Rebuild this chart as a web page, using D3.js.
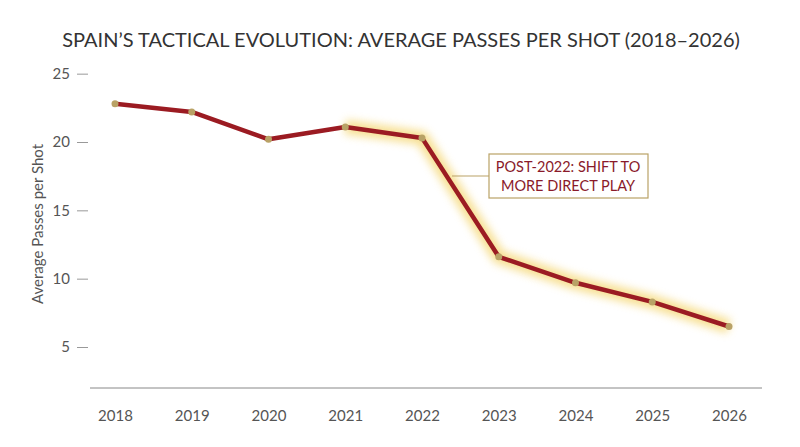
<!DOCTYPE html>
<html><head><meta charset="utf-8">
<script src="https://cdn.jsdelivr.net/npm/d3@7"></script>
<style>body{margin:0;background:#fff;} text{font-family:Lato,"Open Sans",sans-serif;}</style>
</head><body>
<svg id="chart" width="800" height="447"></svg>
<script>
var years = [2018, 2019, 2020, 2021, 2022, 2023, 2024, 2025, 2026];
var passesPerShot = [22.8, 22.2, 20.2, 21.1, 20.3, 11.6, 9.7, 8.3, 6.5];
var yTicks = [5, 10, 15, 20, 25];
var highlightFrom = 2021;
var noteLines = ["POST-2022: SHIFT TO", "MORE DIRECT PLAY"];

var svg = d3.select("#chart");
var red = "#9b1b22", gold = "#b9a266";

var x = d3.scalePoint().domain(years).range([115, 729]);
var y = d3.scaleLinear().domain([2, 26]).range([388, 60]);

svg.append("text").attr("x", 401).attr("y", 47).attr("text-anchor", "middle")
    .attr("font-size", 20).attr("fill", "#333")
    .text("SPAIN\u2019S TACTICAL EVOLUTION: AVERAGE PASSES PER SHOT (2018\u20132026)");

// axes
svg.append("line").attr("x1", 90).attr("x2", 762).attr("y1", 388).attr("y2", 388)
    .attr("stroke", "#888").attr("stroke-width", 1);
var yAxis = svg.append("g").attr("transform", "translate(90,0)")
    .call(d3.axisLeft(y).tickValues(yTicks).tickSize(0));
yAxis.select(".domain").remove();
yAxis.selectAll(".tick line").attr("stroke", "#999").attr("x1", -13).attr("x2", -2);
yAxis.selectAll("text").attr("font-size", 15).attr("fill", "#555").attr("x", -20);
var xAxis = svg.append("g").attr("transform", "translate(0,388)")
    .call(d3.axisBottom(x).tickSize(0).tickPadding(22));
xAxis.select(".domain").remove();
xAxis.selectAll("text").attr("font-size", 15).attr("fill", "#555");

svg.append("text").attr("transform", "translate(43,224) rotate(-90)")
    .attr("text-anchor", "middle").attr("font-size", 15).attr("fill", "#555")
    .text("Average Passes per Shot");

var data = years.map(function (d, i) { return { year: d, v: passesPerShot[i] }; });
var line = d3.line().x(function (d) { return x(d.year); }).y(function (d) { return y(d.v); });

// glow
var defs = svg.append("defs");
var f = defs.append("filter").attr("id", "glow").attr("x", "-20%").attr("y", "-20%").attr("width", "140%").attr("height", "140%");
f.append("feGaussianBlur").attr("stdDeviation", 4);
var hl = data.filter(function (d) { return d.year >= highlightFrom; });
svg.append("path").datum(hl).attr("d", line).attr("fill", "none")
    .attr("stroke", "#f5d878").attr("stroke-width", 14).attr("stroke-linejoin", "round")
    .attr("opacity", 0.8).attr("filter", "url(#glow)");

svg.append("path").datum(data).attr("d", line).attr("fill", "none")
    .attr("stroke", red).attr("stroke-width", 4.5).attr("stroke-linejoin", "round");

svg.selectAll("circle.pt").data(data).enter().append("circle")
    .attr("cx", function (d) { return x(d.year); }).attr("cy", function (d) { return y(d.v); })
    .attr("r", 3.5).attr("fill", gold);

// annotation
svg.append("line").attr("x1", 452).attr("x2", 489).attr("y1", 176).attr("y2", 176)
    .attr("stroke", gold).attr("stroke-width", 1.2);
svg.append("rect").attr("x", 489).attr("y", 154).attr("width", 159).attr("height", 44)
    .attr("fill", "#fff").attr("stroke", gold).attr("stroke-width", 1.2);
svg.selectAll("text.note").data(noteLines).enter().append("text")
    .attr("x", 568).attr("y", function (d, i) { return 172 + i * 19; })
    .attr("text-anchor", "middle").attr("font-size", 14.5).attr("fill", "#8a1a2a").text(function (d) { return d; });
</script>
</body></html>
